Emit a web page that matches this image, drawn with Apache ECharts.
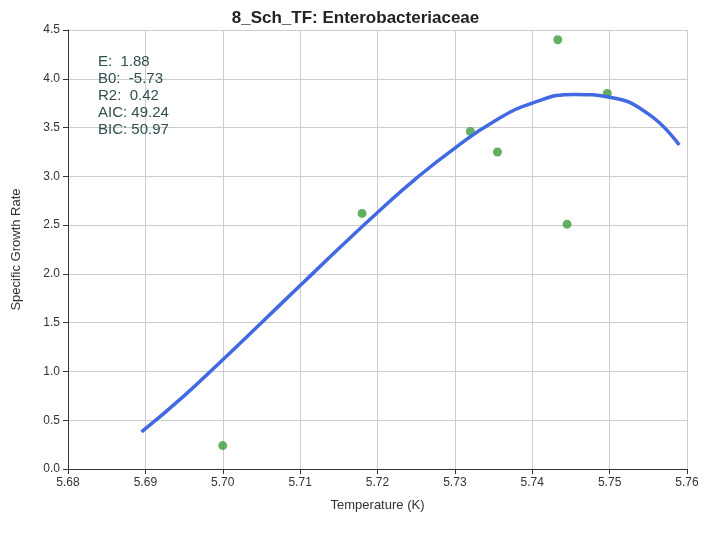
<!DOCTYPE html>
<html><head><meta charset="utf-8">
<script src="https://cdn.jsdelivr.net/npm/echarts@6/dist/echarts.min.js"></script>
<style>html,body{margin:0;background:#fff}#c{width:711px;height:533px}</style>
</head><body><div id="c"></div>
<script>
'use strict';
const obsT = [5.700, 5.718, 5.732, 5.7355, 5.7433, 5.7445, 5.7497];
const obsR = [0.24, 2.62, 3.46, 3.25, 4.40, 2.51, 3.85];
const fitT = [5.6895, 5.695, 5.700, 5.705, 5.710, 5.715, 5.720, 5.725, 5.730, 5.735, 5.740, 5.7455, 5.750, 5.755, 5.759];
const fitR = [0.38, 0.75, 1.12, 1.50, 1.88, 2.26, 2.63, 2.98, 3.29, 3.56, 3.75, 3.84, 3.81, 3.64, 3.32];
const stats = ['E:  1.88', 'B0:  -5.73', 'R2:  0.42', 'AIC: 49.24', 'BIC: 50.97'];

const font = 'Liberation Sans, Arial, sans-serif';
const axisText = { color: '#333', fontSize: 12, fontFamily: font };
const grid = { lineStyle: { color: '#cccccc' } };
const chart = echarts.init(document.getElementById('c'));
chart.setOption({
  animation: false,
  title: { text: '8_Sch_TF: Enterobacteriaceae', left: 'center', top: 5, textStyle: { fontSize: 17, fontWeight: 'bold', color: '#222', fontFamily: font } },
  grid: { left: 68, right: 24, top: 30, bottom: 64 },
  graphic: [{ type: 'text', z: 100, left: 98, top: 53, style: { text: stats.join('\n'), fontSize: 15, lineHeight: 17, fill: '#2f4f4f', fontFamily: font } }],
  xAxis: { type: 'value', min: 5.68, max: 5.76, interval: 0.01, name: 'Temperature (K)', nameLocation: 'middle', nameGap: 30,
    nameTextStyle: { ...axisText, fontSize: 13 }, axisLabel: { ...axisText, formatter: v => v.toFixed(2) },
    axisLine: { lineStyle: { color: '#333' } }, axisTick: { lineStyle: { color: '#333' } }, splitLine: grid },
  yAxis: { type: 'value', min: 0, max: 4.5, interval: 0.5, name: 'Specific Growth Rate', nameLocation: 'middle', nameGap: 45,
    nameTextStyle: { ...axisText, fontSize: 13 }, axisLabel: { ...axisText, formatter: v => v.toFixed(1) },
    axisLine: { show: true, lineStyle: { color: '#333' } }, axisTick: { show: true, lineStyle: { color: '#333' } }, splitLine: grid },
  series: [
    { type: 'line', data: fitT.map((t, i) => [t, fitR[i]]), smooth: 0.5, symbol: 'none', lineStyle: { width: 3.5, color: '#4169e1' } },
    { type: 'scatter', data: obsT.map((t, i) => [t, obsR[i]]), symbolSize: 9, itemStyle: { color: '#3c9c3c' } },
  ],
});
</script></body></html>
